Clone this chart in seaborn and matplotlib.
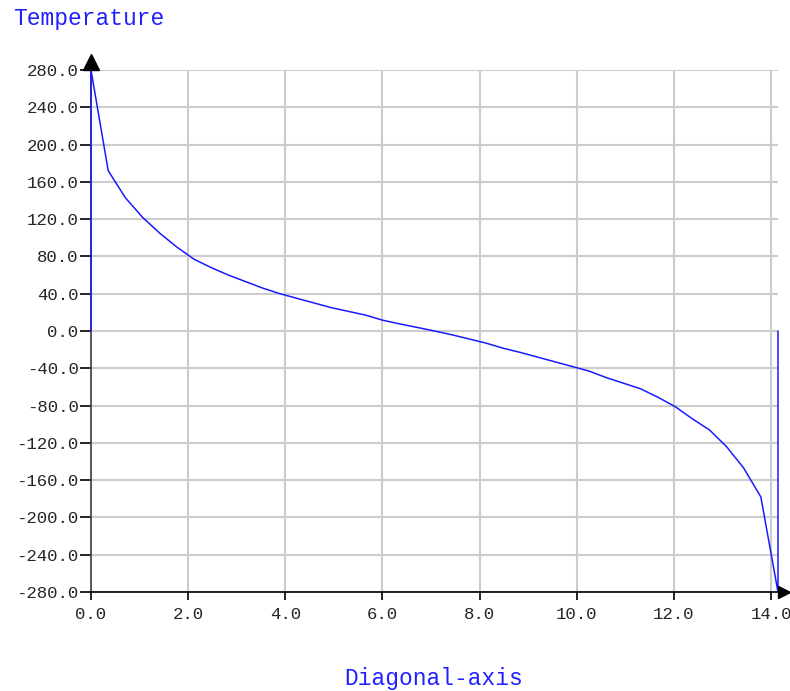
import numpy as np
import pandas as pd
import matplotlib
matplotlib.use("Agg")
import matplotlib.pyplot as plt
import matplotlib.transforms as mtransforms
import seaborn as sns

# distancia a lo largo de la diagonal y temperatura leída
diag_pos = [0.0, 0.0, 0.354, 0.707, 1.061, 1.414, 1.768, 2.121, 2.475, 2.828,
            3.182, 3.536, 3.889, 4.243, 4.596, 4.950, 5.303, 5.657, 6.010,
            6.364, 6.718, 7.071, 7.425, 7.778, 8.132, 8.485, 8.839, 9.192,
            9.546, 9.899, 10.253, 10.607, 10.960, 11.314, 11.667, 12.021,
            12.374, 12.728, 13.082, 13.435, 13.789, 14.142, 14.142]
temperature = [0, 280, 172, 143, 122, 105, 90, 77, 68, 60,
               53, 46, 40, 35, 30, 25, 21, 17, 11.5,
               7.5, 3.8, 0, -4, -8.5, -13, -18.5, -23, -28,
               -33, -38, -43, -50, -56, -62, -71, -81,
               -94, -106, -124, -147, -178, -280, 0]

x_ticks = [0, 2, 4, 6, 8, 10, 12, 14]
x_labels = ["0.0", "2.0", "4.0", "6.0", "8.0", "10.0", "12.0", "14.0"]
y_ticks = list(range(-280, 281, 40))
y_labels = [f"{v:.1f}" for v in y_ticks]

df = pd.DataFrame({"Diagonal": diag_pos, "Temperature": temperature})

sns.set_style("white")
plt.rcParams['font.family'] = ['Liberation Mono', 'DejaVu Sans Mono']

fig = plt.figure(figsize=(7.9, 6.91), dpi=100)
ax = fig.add_axes([91 / 790, 99 / 691, 687 / 790, 522 / 691])

sns.lineplot(data=df, x="Diagonal", y="Temperature", sort=False,
             estimator=None, color="#1a1aff", linewidth=1.1, ax=ax)
for ln in ax.lines:
    ln.set_clip_on(False)
    ln.set_zorder(4)

ax.set_xlim(0, 14.142)
ax.set_ylim(-280, 280)
ax.set_xticks(x_ticks)
ax.set_xticklabels(x_labels)
ax.set_yticks(y_ticks)
ax.set_yticklabels(y_labels)
ax.set_xlabel("")
ax.set_ylabel("")

ax.grid(True, color="#cccccc", linewidth=1.5)
ax.set_axisbelow(True)
for s in ["top", "right"]:
    ax.spines[s].set_visible(False)
ax.spines["left"].set_color("#404040")
ax.spines["bottom"].set_color("black")
ax.spines["left"].set_linewidth(1.2)
ax.spines["bottom"].set_linewidth(1.2)
ax.spines["left"].set_zorder(2)

ax.tick_params(axis="y", direction="out", length=8, width=1.2, color="black",
               pad=1, labelsize=12.5, left=True)
ax.tick_params(axis="x", direction="out", length=6, width=1.2, color="black",
               pad=5, labelsize=12.5, bottom=True)

# flechas de los ejes
up = mtransforms.offset_copy(ax.transData, fig=fig, x=0, y=8, units="dots")
ax.plot([0], [280], marker="^", color="black", markersize=12,
        clip_on=False, transform=up, zorder=5)
right = mtransforms.offset_copy(ax.transData, fig=fig, x=6, y=0, units="dots")
ax.plot([14.142], [-280], marker=">", color="black", markersize=9,
        clip_on=False, transform=right, zorder=5)

fig.text(13 / 790, 1 - 18 / 691, "Temperature", color="#2020ff",
         fontsize=16.5, ha="left", va="center")
fig.text(434 / 790, 1 - 679 / 691, "Diagonal-axis", color="#2020ff",
         fontsize=16.5, ha="center", va="center")

fig.savefig("out.png", dpi=100)
